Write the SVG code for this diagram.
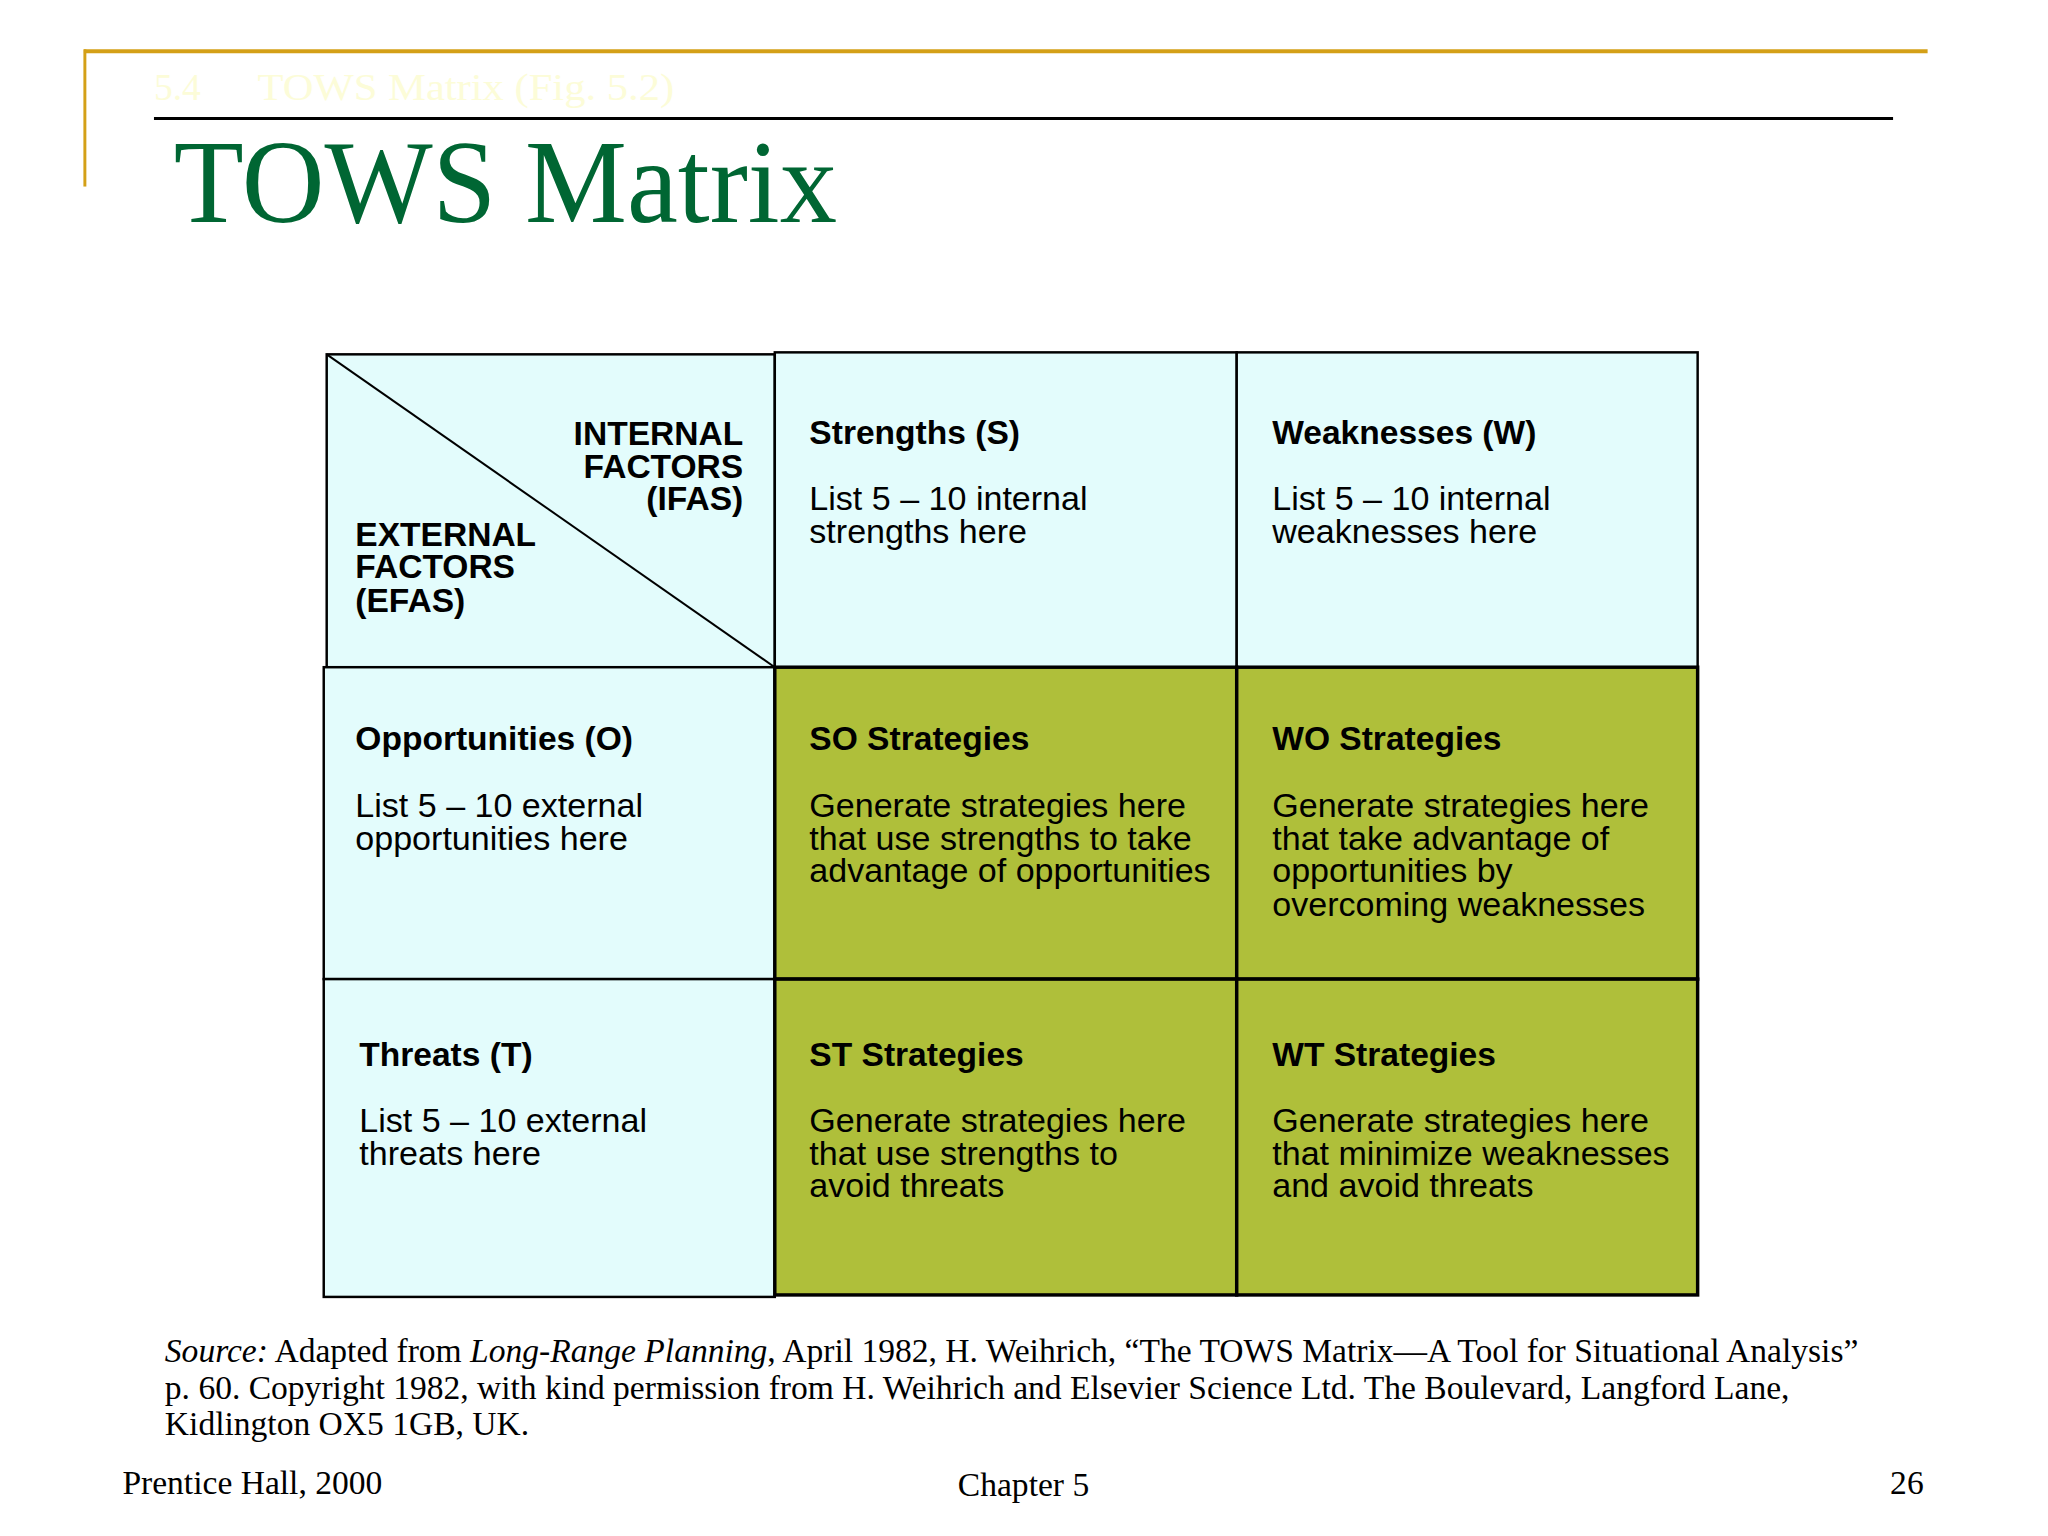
<svg xmlns="http://www.w3.org/2000/svg" width="2048" height="1536" viewBox="0 0 2048 1536">
<style>
.cy{fill:#E3FCFC;stroke:#000;stroke-width:2.5}
.ol{fill:#AFBF3A;stroke:#000;stroke-width:3.5}
.h{font-family:"Liberation Sans",Arial,sans-serif;font-weight:bold;font-size:34px;fill:#000}
.b{font-family:"Liberation Sans",Arial,sans-serif;font-size:34.5px;fill:#000}
.s{font-family:"Liberation Serif","Times New Roman",serif;font-size:34px;fill:#000}
</style>
<rect width="2048" height="1536" fill="#fff"/>
<g transform="scale(0.987)">
<g id="header">
<line x1="85" y1="52" x2="1953" y2="52" stroke="#D4A017" stroke-width="4"/>
<line x1="86" y1="50" x2="86" y2="189" stroke="#D4A017" stroke-width="3"/>
<text x="156" y="101" font-family="Liberation Serif,serif" font-size="38" fill="#FCFCD8">5.4</text>
<text x="261" y="101" font-family="Liberation Serif,serif" font-size="38" fill="#FCFCD8" textLength="422" lengthAdjust="spacingAndGlyphs">TOWS Matrix (Fig. 5.2)</text>
<line x1="156" y1="120" x2="1918" y2="120" stroke="#000" stroke-width="3"/>
<text x="176" y="225" font-family="Liberation Serif,serif" font-size="120" fill="#006633" textLength="672" lengthAdjust="spacingAndGlyphs">TOWS Matrix</text>
</g>
<g id="corner">
<rect class="cy" x="331" y="359" width="454" height="317"/>
<line x1="331" y1="359" x2="785" y2="676" stroke="#000" stroke-width="2"/>
<text class="h" text-anchor="end"><tspan x="753" y="451">INTERNAL</tspan><tspan x="753" y="484">FACTORS</tspan><tspan x="753" y="517">(IFAS)</tspan></text>
<text class="h"><tspan x="360" y="553">EXTERNAL</tspan><tspan x="360" y="586">FACTORS</tspan><tspan x="360" y="620">(EFAS)</tspan></text>
</g>
<g id="S">
<rect class="cy" x="785" y="357" width="468" height="319"/>
<text class="h" x="820" y="450">Strengths (S)</text>
<text class="b"><tspan x="820" y="517">List 5 – 10 internal</tspan><tspan x="820" y="550">strengths here</tspan></text>
</g>
<g id="W">
<rect class="cy" x="1253" y="357" width="467" height="319"/>
<text class="h" x="1289" y="450">Weaknesses (W)</text>
<text class="b"><tspan x="1289" y="517">List 5 – 10 internal</tspan><tspan x="1289" y="550">weaknesses here</tspan></text>
</g>
<g id="O">
<rect class="cy" x="328" y="676" width="457" height="316"/>
<text class="h" x="360" y="760">Opportunities (O)</text>
<text class="b"><tspan x="360" y="828">List 5 – 10 external</tspan><tspan x="360" y="861">opportunities here</tspan></text>
</g>
<g id="T">
<rect class="cy" x="328" y="992" width="457" height="322"/>
<text class="h" x="364" y="1080">Threats (T)</text>
<text class="b"><tspan x="364" y="1147">List 5 – 10 external</tspan><tspan x="364" y="1180">threats here</tspan></text>
</g>
<g id="SO">
<rect class="ol" x="785" y="676" width="468" height="316"/>
<text class="h" x="820" y="760">SO Strategies</text>
<text class="b"><tspan x="820" y="828">Generate strategies here</tspan><tspan x="820" y="861">that use strengths to take</tspan><tspan x="820" y="894">advantage of opportunities</tspan></text>
</g>
<g id="WO">
<rect class="ol" x="1253" y="676" width="467" height="316"/>
<text class="h" x="1289" y="760">WO Strategies</text>
<text class="b"><tspan x="1289" y="828">Generate strategies here</tspan><tspan x="1289" y="861">that take advantage of</tspan><tspan x="1289" y="894">opportunities by</tspan><tspan x="1289" y="928">overcoming weaknesses</tspan></text>
</g>
<g id="ST">
<rect class="ol" x="785" y="992" width="468" height="320"/>
<text class="h" x="820" y="1080">ST Strategies</text>
<text class="b"><tspan x="820" y="1147">Generate strategies here</tspan><tspan x="820" y="1180">that use strengths to</tspan><tspan x="820" y="1213">avoid threats</tspan></text>
</g>
<g id="WT">
<rect class="ol" x="1253" y="992" width="467" height="320"/>
<text class="h" x="1289" y="1080">WT Strategies</text>
<text class="b"><tspan x="1289" y="1147">Generate strategies here</tspan><tspan x="1289" y="1180">that minimize weaknesses</tspan><tspan x="1289" y="1213">and avoid threats</tspan></text>
</g>
<g id="footer">
<text class="s"><tspan x="167" y="1380"><tspan font-style="italic">Source:</tspan> Adapted from <tspan font-style="italic">Long-Range Planning</tspan>, April 1982, H. Weihrich, “The TOWS Matrix—A Tool for Situational Analysis”</tspan><tspan x="167" y="1417">p. 60. Copyright 1982, with kind permission from H. Weihrich and Elsevier Science Ltd. The Boulevard, Langford Lane,</tspan><tspan x="167" y="1454">Kidlington  OX5 1GB, UK.</tspan></text>
<text class="s" x="124" y="1514" font-size="33">Prentice Hall, 2000</text>
<text class="s" x="1037" y="1516" font-size="33" text-anchor="middle">Chapter 5</text>
<text class="s" x="1949" y="1514" font-size="33" text-anchor="end">26</text>
</g>
</g>
</svg>
